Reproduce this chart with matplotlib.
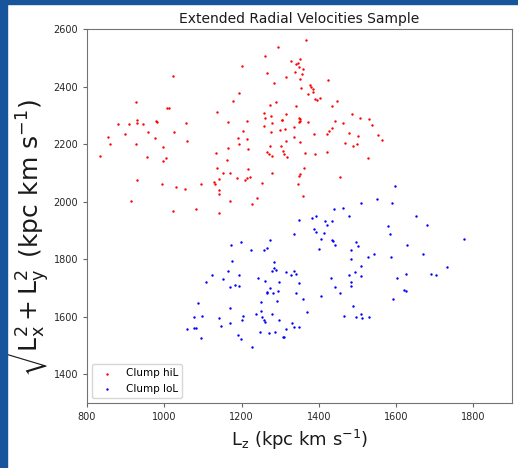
import matplotlib
matplotlib.use('Agg')
import matplotlib.pyplot as plt
from matplotlib.patches import Rectangle

# Clump hiL (red)
hil_lz = [1201, 1022, 1193, 927, 1177, 1007, 1012, 1137, 879, 908,
          930, 930, 945, 978, 980, 1057, 1166, 1214, 898, 959,
          1025, 1203, 855, 860, 927, 977, 1060, 1190, 1215, 1193,
          996, 1217, 1164, 834, 956, 1004, 996, 1134, 1163, 1137,
          1217, 1151, 1169, 930, 1142, 1130, 1132, 1187, 1209, 1213,
          1222, 993, 1031, 1054, 1095, 1142, 1142, 913, 1171, 1226,
          1023, 1082, 1142,
          1366, 1294, 1262, 1329, 1342, 1347, 1352, 1349, 1360, 1338,
          1357, 1351, 1267, 1316, 1284, 1424, 1355, 1377, 1381, 1385,
          1386, 1372, 1391, 1394, 1403, 1446, 1289, 1273, 1340, 1435,
          1257, 1262, 1275, 1316, 1304, 1306, 1349, 1352, 1348, 1350,
          1372, 1486, 1506, 1531, 1537, 1441, 1462, 1259, 1278, 1335,
          1313, 1299, 1435, 1427, 1422, 1387, 1477, 1502, 1275, 1554,
          1563, 1337, 1315, 1350, 1468, 1499, 1488, 1273, 1302, 1267,
          1270, 1278, 1307, 1311, 1317, 1363, 1390, 1422, 1528, 1361,
          1278, 1352, 1349, 1456, 1252, 1345, 1358, 1241]
hil_lperp = [2471, 2437, 2376, 2346, 2351, 2324, 2326, 2311, 2269, 2269,
             2284, 2272, 2269, 2280, 2277, 2273, 2277, 2280, 2235, 2243,
             2242, 2246, 2224, 2199, 2199, 2221, 2212, 2220, 2216, 2199,
             2190, 2182, 2186, 2160, 2155, 2151, 2140, 2169, 2143, 2117,
             2113, 2099, 2099, 2074, 2078, 2068, 2061, 2082, 2076, 2081,
             2086, 2060, 2052, 2044, 2060, 2039, 2025, 2001, 2001, 1991,
             1966, 1975, 1961,
             2562, 2536, 2506, 2488, 2479, 2483, 2497, 2467, 2462, 2449,
             2445, 2427, 2446, 2432, 2411, 2424, 2394, 2406, 2399, 2391,
             2380, 2374, 2355, 2352, 2359, 2350, 2346, 2337, 2332, 2332,
             2308, 2289, 2297, 2303, 2282, 2285, 2291, 2286, 2278, 2281,
             2278, 2303, 2289, 2286, 2267, 2281, 2273, 2264, 2272, 2259,
             2252, 2248, 2255, 2244, 2234, 2234, 2237, 2229, 2242, 2233,
             2213, 2224, 2212, 2208, 2204, 2202, 2194, 2194, 2194, 2172,
             2165, 2160, 2177, 2166, 2156, 2169, 2164, 2172, 2153, 2118,
             2099, 2096, 2090, 2086, 2064, 2060, 2018, 2013]

# Clump loL (blue)
lol_lz = [1348, 1382, 1392, 1417, 1422, 1387, 1392, 1414, 1337, 1406,
          1401, 1174, 1198, 1225, 1273, 1267, 1259, 1175, 1284, 1279,
          1283, 1289, 1166, 1123, 1193, 1153, 1107, 1243, 1262, 1297,
          1316, 1329, 1335, 1342, 1171, 1183, 1193, 1273, 1265, 1265,
          1282, 1294, 1348, 1341, 1291, 1358, 1406, 1251, 1088, 1169,
          1369, 1078, 1097, 1142, 1203, 1201, 1237, 1251, 1252, 1259,
          1261, 1278, 1297, 1060, 1076, 1082, 1147, 1169, 1330, 1335,
          1348, 1316, 1094, 1190, 1198, 1249, 1270, 1286, 1308, 1310,
          1227,
          1598, 1510, 1550, 1589, 1438, 1462, 1478, 1435, 1434, 1436,
          1443, 1651, 1680, 1579, 1584, 1496, 1502, 1483, 1483, 1629,
          1776, 1542, 1526, 1587, 1669, 1510, 1493, 1478, 1510, 1731,
          1625, 1602, 1691, 1704, 1432, 1483, 1483, 1441, 1454, 1621,
          1626, 1592, 1488, 1464, 1497, 1510, 1513, 1531]
lol_lperp = [1936, 1942, 1950, 1932, 1918, 1904, 1895, 1892, 1888, 1871,
             1836, 1850, 1858, 1831, 1866, 1840, 1831, 1793, 1789, 1760,
             1768, 1762, 1758, 1746, 1746, 1732, 1720, 1736, 1724, 1721,
             1755, 1746, 1758, 1750, 1702, 1711, 1706, 1698, 1685, 1681,
             1681, 1690, 1716, 1681, 1655, 1660, 1671, 1651, 1646, 1630,
             1617, 1598, 1603, 1595, 1603, 1590, 1611, 1620, 1600, 1587,
             1581, 1610, 1590, 1557, 1561, 1560, 1568, 1578, 1578, 1565,
             1565, 1556, 1527, 1535, 1521, 1546, 1542, 1546, 1530, 1530,
             1495,
             2056, 1996, 2009, 1996, 1974, 1979, 1949, 1931, 1867, 1863,
             1849, 1949, 1918, 1914, 1888, 1858, 1844, 1831, 1801, 1849,
             1871, 1819, 1806, 1809, 1819, 1776, 1754, 1746, 1741, 1771,
             1749, 1736, 1749, 1744, 1736, 1719, 1706, 1703, 1681, 1693,
             1689, 1660, 1638, 1603, 1600, 1608, 1595, 1600]

fig = plt.figure(figsize=(5.18, 4.68), dpi=100)
ax = fig.add_axes([87 / 518, 65 / 468, 425 / 518, 374 / 468])

ax.scatter(hil_lz, hil_lperp, s=3, c='red', linewidths=0, label='Clump hiL')
ax.scatter(lol_lz, lol_lperp, s=3, c='blue', linewidths=0, label='Clump loL')

ax.set_xlim(800, 1900)
ax.set_ylim(1300, 2600)
ax.set_xticks([800, 1000, 1200, 1400, 1600, 1800])
ax.set_yticks([1400, 1600, 1800, 2000, 2200, 2400, 2600])
ax.tick_params(labelsize=7, length=3, color='0.4', labelcolor='0.15')
for sp in ax.spines.values():
    sp.set_color('0.45')

ax.set_title('Extended Radial Velocities Sample', fontsize=10, color='0.1', pad=4)
ax.set_xlabel(r'L$_{\rm z}$ (kpc km s$^{-1}$)', fontsize=13, color='0.1')
ax.set_ylabel(r'$\sqrt{\rm L_x^2 + L_y^2}$ (kpc km s$^{-1}$)', fontsize=18, color='0.1')
ax.yaxis.set_label_coords(-0.083, 0.44)

ax.legend(loc='lower left', fontsize=7.5, markerscale=1.0, framealpha=0.8)

# window frame around the screenshot
blue = '#17549c'
fig.patches.append(Rectangle((0, 1 - 4 / 468), 1, 4 / 468, transform=fig.transFigure,
                             color=blue, zorder=10))
fig.patches.append(Rectangle((0, 0), 7 / 518, 1, transform=fig.transFigure,
                             color=blue, zorder=10))

fig.savefig('out.png', dpi=100)
